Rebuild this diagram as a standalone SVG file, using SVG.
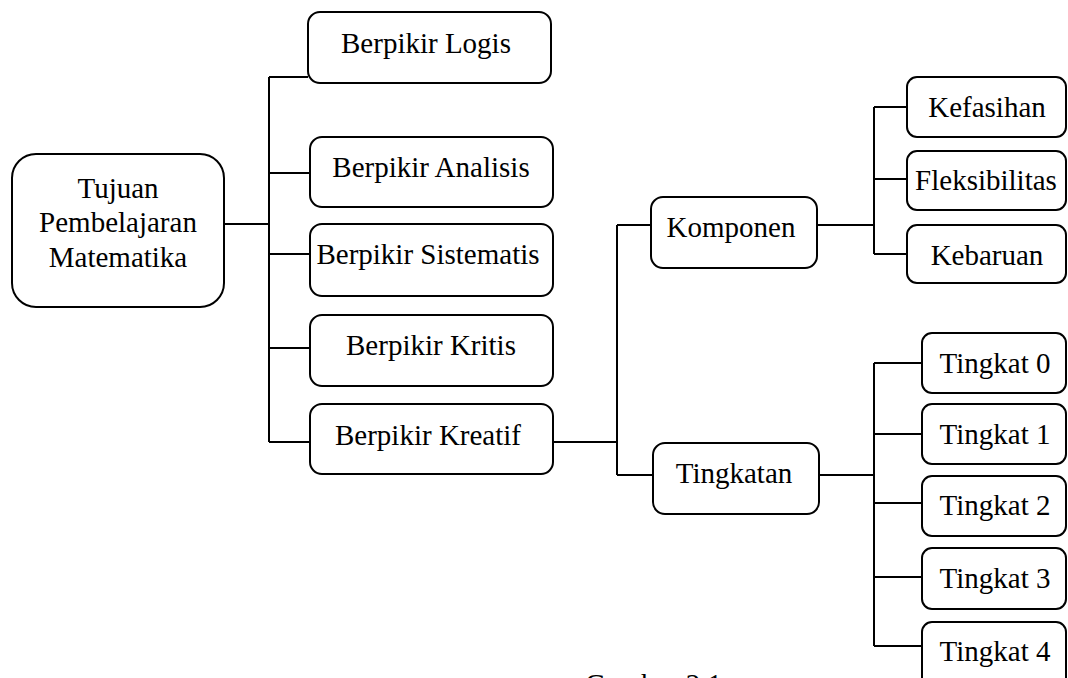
<svg xmlns="http://www.w3.org/2000/svg" width="1068" height="678" viewBox="0 0 1068 678">
<style>
.box{fill:#fff;stroke:#000;stroke-width:2}
.t{font-family:"Liberation Serif","Times New Roman",serif;font-size:29px;fill:#000;text-anchor:middle}
.c{fill:none;stroke:#000;stroke-width:2}
</style>
<rect width="1068" height="678" fill="#fff"/>
<g id="connectors" class="c">
<path d="M224 224H269M269 77V442M269 77H308M269 173H310M269 254H310M269 348H310M269 442H310"/>
<path d="M553 442H617M617 225V475M617 225H651M617 475H653"/>
<path d="M817 225H874M874 107V254M874 107H907M874 179H907M874 254H907"/>
<path d="M819 475H874M874 363V646M874 363H922M874 434H922M874 503H922M874 577H922M874 646H922"/>
</g>
<g id="root"><rect class="box" x="12" y="154" width="212" height="153" rx="24"/>
<text class="t" x="118" y="198">Tujuan</text><text class="t" x="118" y="232">Pembelajaran</text><text class="t" x="118" y="267">Matematika</text></g>
<g id="logis"><rect class="box" x="308" y="12" width="243" height="71" rx="12"/><text class="t" x="426" y="53">Berpikir Logis</text></g>
<g id="analisis"><rect class="box" x="310" y="137" width="243" height="70" rx="12"/><text class="t" x="431" y="177">Berpikir Analisis</text></g>
<g id="sistematis"><rect class="box" x="310" y="224" width="243" height="72" rx="12"/><text class="t" x="428" y="264">Berpikir Sistematis</text></g>
<g id="kritis"><rect class="box" x="310" y="315" width="243" height="71" rx="12"/><text class="t" x="431" y="355">Berpikir Kritis</text></g>
<g id="kreatif"><rect class="box" x="310" y="404" width="243" height="70" rx="12"/><text class="t" x="428" y="445">Berpikir Kreatif</text></g>
<g id="komponen"><rect class="box" x="651" y="197" width="166" height="71" rx="12"/><text class="t" x="731" y="237">Komponen</text></g>
<g id="tingkatan"><rect class="box" x="653" y="443" width="166" height="71" rx="12"/><text class="t" x="734" y="483">Tingkatan</text></g>
<g id="kefasihan"><rect class="box" x="907" y="77" width="159" height="60" rx="10"/><text class="t" x="987" y="117">Kefasihan</text></g>
<g id="fleksibilitas"><rect class="box" x="907" y="151" width="159" height="59" rx="10"/><text class="t" x="986" y="190">Fleksibilitas</text></g>
<g id="kebaruan"><rect class="box" x="907" y="225" width="159" height="58" rx="10"/><text class="t" x="987" y="265">Kebaruan</text></g>
<g id="t0"><rect class="box" x="922" y="333" width="144" height="60" rx="10"/><text class="t" x="995" y="373">Tingkat 0</text></g>
<g id="t1"><rect class="box" x="922" y="404" width="144" height="60" rx="10"/><text class="t" x="995" y="444">Tingkat 1</text></g>
<g id="t2"><rect class="box" x="922" y="476" width="144" height="60" rx="10"/><text class="t" x="995" y="515">Tingkat 2</text></g>
<g id="t3"><rect class="box" x="922" y="548" width="144" height="61" rx="10"/><text class="t" x="995" y="588">Tingkat 3</text></g>
<g id="t4"><rect class="box" x="922" y="622" width="144" height="70" rx="10"/><text class="t" x="995" y="661">Tingkat 4</text></g>
<text class="t" x="585" y="694" style="text-anchor:start">Gambar 2.1</text>
</svg>
